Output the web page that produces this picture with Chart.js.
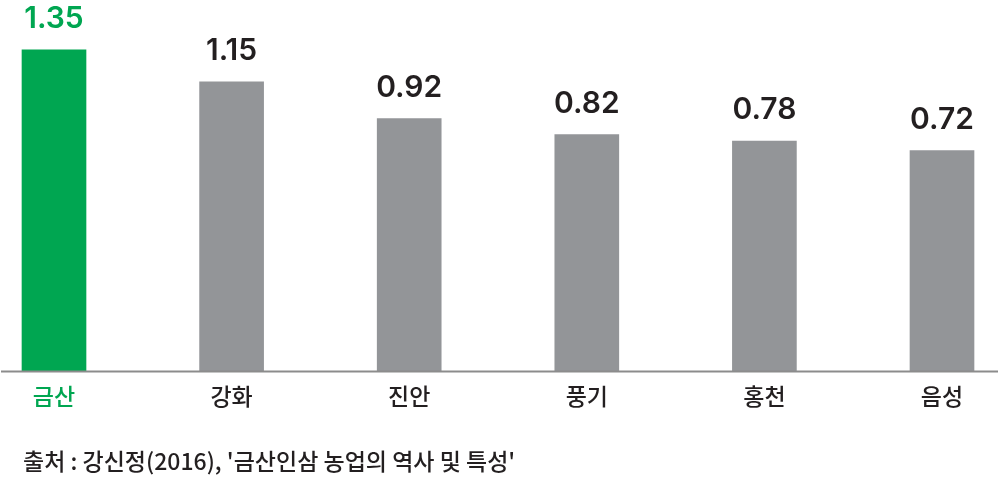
<!DOCTYPE html>
<html>
<head>
<meta charset="utf-8">
<script src="https://cdn.jsdelivr.net/npm/chart.js@4/dist/chart.umd.min.js"></script>
<style>
  html, body { margin: 0; padding: 0; background: #ffffff; }
  #wrap { width: 1000px; height: 479px; position: relative; }
</style>
</head>
<body>
<div id="wrap"><canvas id="c"></canvas></div>
<script>
const categories = ['금산', '강화', '진안', '풍기', '홍천', '음성'];
const values = [1.35, 1.15, 0.92, 0.82, 0.78, 0.72];
const valueLabels = ['1.35', '1.15', '0.92', '0.82', '0.78', '0.72'];
const sourceText = "출처 : 강신정(2016), '금산인삼 농업의 역사 및 특성'";

const GREEN = '#00a651';
const GRAY = '#939598';
const DARK = '#231f20';
const Y_MIN = -0.661;
const Y_MAX = 1.662;

const barColors = categories.map((c, i) => i === 0 ? GREEN : GRAY);
const textColors = categories.map((c, i) => i === 0 ? GREEN : DARK);

const decor = {
  id: 'decor',
  afterDatasetsDraw(chart) {
    const ctx = chart.ctx;
    const y = chart.scales.y;
    const base = y.getPixelForValue(Y_MIN);
    ctx.save();
    ctx.strokeStyle = '#8c8c8c';
    ctx.lineWidth = 2;
    ctx.beginPath();
    ctx.moveTo(1, base);
    ctx.lineTo(998, base);
    ctx.stroke();

    const meta = chart.getDatasetMeta(0);
    ctx.font = "600 30px Inter, 'Noto Sans CJK KR', sans-serif";
    ctx.textAlign = 'center';
    ctx.textBaseline = 'bottom';
    meta.data.forEach((bar, i) => {
      ctx.fillStyle = textColors[i];
      ctx.fillText(valueLabels[i], bar.x, bar.y - 16);
    });

    ctx.font = "500 23px 'Noto Sans CJK KR', sans-serif";
    ctx.textAlign = 'left';
    ctx.textBaseline = 'middle';
    ctx.fillStyle = DARK;
    ctx.fillText(sourceText, 23, 461);
    ctx.restore();
  }
};

new Chart(document.getElementById('c'), {
  type: 'bar',
  data: {
    labels: categories,
    datasets: [{
      data: values,
      backgroundColor: barColors,
      barThickness: 64,
      base: Y_MIN,
      clip: false
    }]
  },
  options: {
    responsive: true,
    maintainAspectRatio: false,
    animation: false,
    layout: { padding: { left: 54, right: 58, top: 0, bottom: 58 } },
    plugins: { legend: { display: false }, tooltip: { enabled: false }, title: { display: false } },
    scales: {
      x: {
        offset: false,
        grid: { display: false, drawTicks: false },
        border: { display: false },
        ticks: {
          padding: 11,
          color: textColors,
          font: { family: "'Noto Sans CJK KR', sans-serif", size: 23, weight: '500' },
          maxRotation: 0,
          autoSkip: false
        }
      },
      y: {
        display: false,
        min: Y_MIN,
        max: Y_MAX
      }
    }
  },
  plugins: [decor]
});
</script>
</body>
</html>
